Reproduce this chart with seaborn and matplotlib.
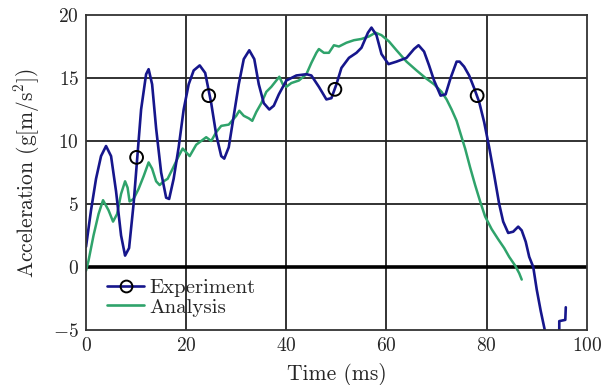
import pandas as pd
import matplotlib
matplotlib.use('Agg')
import matplotlib.pyplot as plt
import seaborn as sns
from matplotlib.lines import Line2D

# Experiment (blue) curve
exp_time = [0, 1, 2, 3, 4, 5, 6, 7, 7.8, 8.6, 9.5, 10.3, 11, 12, 12.5, 13.2, 14, 15, 16, 16.6,
            17.5, 18.5, 19.5, 20.5, 21.5, 22.7, 23.8, 25, 26, 27, 27.6, 28.5, 29.5, 30.5, 31.5,
            32.6, 33.6, 34.5, 35.5, 36.6, 37.5, 38.5, 40, 42, 44, 45, 46.5, 48, 49, 50, 51, 52.5,
            54, 55, 56.3, 57, 58, 59, 60.4, 62, 64, 65.5, 66.4, 67.5, 68.5, 69.5, 70.8, 71.8,
            72.8, 74, 74.6, 75.5, 76.5, 77.5, 78.5, 79.5, 80.5, 81.5, 82.5, 83.3, 84.3, 85.3,
            86.3, 87, 87.8, 88.5, 89.3, 90, 90.8, 91.6, 92.5, 93.5, 94.5, 94.5, 95.7, 95.8]
exp_accel = [1.6, 4.5, 7, 8.8, 9.6, 8.8, 6, 2.5, 0.9, 1.5, 5, 9, 12.5, 15.3, 15.7, 14.5, 11, 7.5,
             5.5, 5.4, 7, 9.5, 12.5, 14.5, 15.6, 16, 15.4, 13, 10.5, 8.8, 8.6, 9.5, 12, 14.5, 16.5,
             17.2, 16.5, 14.5, 13, 12.5, 12.8, 13.7, 14.8, 15.2, 15.3, 15.2, 14.3, 13.3, 13.4,
             14.5, 15.8, 16.6, 17, 17.4, 18.6, 19, 18.4, 16.9, 16.1, 16.3, 16.6, 17.3, 17.6,
             17.1, 16, 14.8, 13.6, 13.7, 15, 16.3, 16.3, 15.9, 15.2, 14.2, 13.1, 11.5, 9.5, 7.3,
             5, 3.6, 2.7, 2.8, 3.2, 2.9, 2, 0.8, 0, -1.8, -3.5, -5, -6.5, -6.5, -5.1, -4.3, -4.2,
             -3.2]

# Analysis (green) curve
ana_time = [0, 0.5, 1.5, 2.5, 3.4, 4.5, 5.4, 6.2, 7, 7.8, 8.3, 8.7, 9.5, 10.5, 11.5, 12.5, 13.2,
            14, 14.7, 15.5, 16.3, 17.3, 18.5, 19.3, 20, 20.7, 22, 23, 24, 25, 26, 27, 28.5, 30,
            30.6, 31.5, 32.5, 33.2, 34, 35, 36, 37, 38.6, 39.3, 40, 41, 42.5, 44, 45, 46, 46.5,
            47.5, 48.5, 49.5, 50.5, 52, 53.5, 55, 56.5, 57.8, 59, 60.5, 62, 64, 66, 67.8, 69.5,
            71, 72, 73, 74, 75, 75.7, 76.7, 77.7, 78.7, 79.7, 81, 82.3, 83.5, 84.5, 85.7, 86.5, 87]
ana_accel = [-0.3, 0.5, 2.5, 4.2, 5.3, 4.5, 3.6, 4.2, 5.8, 6.8, 6.3, 5.2, 5.4, 6.2, 7.2, 8.3, 7.8,
             6.8, 6.5, 6.8, 7, 7.8, 8.8, 9.4, 9.1, 8.8, 9.7, 10, 10.3, 10, 10.7, 11.2, 11.3, 12,
             12.4, 12, 11.8, 11.6, 12.3, 13, 13.9, 14.3, 15.1, 14.5, 14.3, 14.6, 14.8, 15.3, 16.2,
             17, 17.3, 17, 17, 17.6, 17.5, 17.8, 18, 18.1, 18.3, 18.6, 18.4, 17.9, 17.2, 16.3,
             15.6, 15, 14.5, 13.9, 13.3, 12.5, 11.6, 10.3, 9.4, 7.9, 6.5, 5.2, 4, 3, 2.2, 1.5,
             0.8, 0.1, -0.5, -1]

# open circle markers on the experiment curve
marker_time = [10.1, 24.5, 49.7, 78.1]
marker_accel = [8.7, 13.6, 14.1, 13.6]

exp_df = pd.DataFrame({'t': exp_time, 'a': exp_accel})
ana_df = pd.DataFrame({'t': ana_time, 'a': ana_accel})
mk_df = pd.DataFrame({'t': marker_time, 'a': marker_accel})

sns.set_style('white')
plt.rcParams['font.family'] = 'serif'
plt.rcParams['font.serif'] = ['cmr10', 'DejaVu Serif']
plt.rcParams['mathtext.fontset'] = 'cm'
plt.rcParams['axes.formatter.use_mathtext'] = True
plt.rcParams['axes.unicode_minus'] = True

blue = '#16168c'
green = '#2fa36b'

fig = plt.figure(figsize=(6.1, 3.85), dpi=100)
ax = fig.add_axes([0.141, 0.143, 0.821, 0.818])

for v in [20, 40, 60, 80]:
    ax.axvline(v, color='#222222', lw=1.3, zorder=0)
for v in [5, 10, 15]:
    ax.axhline(v, color='#222222', lw=1.3, zorder=0)
ax.axhline(0, color='black', lw=2.6, zorder=1)

sns.lineplot(data=ana_df, x='t', y='a', sort=False, estimator=None, color=green, lw=1.8, ax=ax)
sns.lineplot(data=exp_df, x='t', y='a', sort=False, estimator=None, color=blue, lw=1.9, ax=ax)
sns.scatterplot(data=mk_df, x='t', y='a', marker='o', s=85, facecolor='none',
                edgecolor='black', linewidth=1.4, ax=ax, zorder=5)

ax.set_xlim(0, 100)
ax.set_ylim(-5, 20)
ax.set_xticks([0, 20, 40, 60, 80, 100])
ax.set_yticks([-5, 0, 5, 10, 15, 20])
ax.tick_params(length=0, labelsize=14, pad=5)
for s in ax.spines.values():
    s.set_color('#333333')
    s.set_linewidth(1.3)

ax.set_xlabel('Time (ms)', fontsize=15.5, labelpad=6)
ax.set_ylabel(r'Acceleration (g[m/s$^2$])', fontsize=15.5, labelpad=8)

handles = [Line2D([], [], color=blue, lw=1.9, marker='o', markersize=8.5,
                  markerfacecolor='none', markeredgecolor='black', markeredgewidth=1.4),
           Line2D([], [], color=green, lw=1.9)]
ax.legend(handles, ['Experiment', 'Analysis'], loc='upper left', bbox_to_anchor=(0.025, 0.19),
          frameon=False, fontsize=15, handlelength=1.8, handletextpad=0.25, labelspacing=0.05,
          borderaxespad=0)

fig.savefig('out.png', dpi=100)
